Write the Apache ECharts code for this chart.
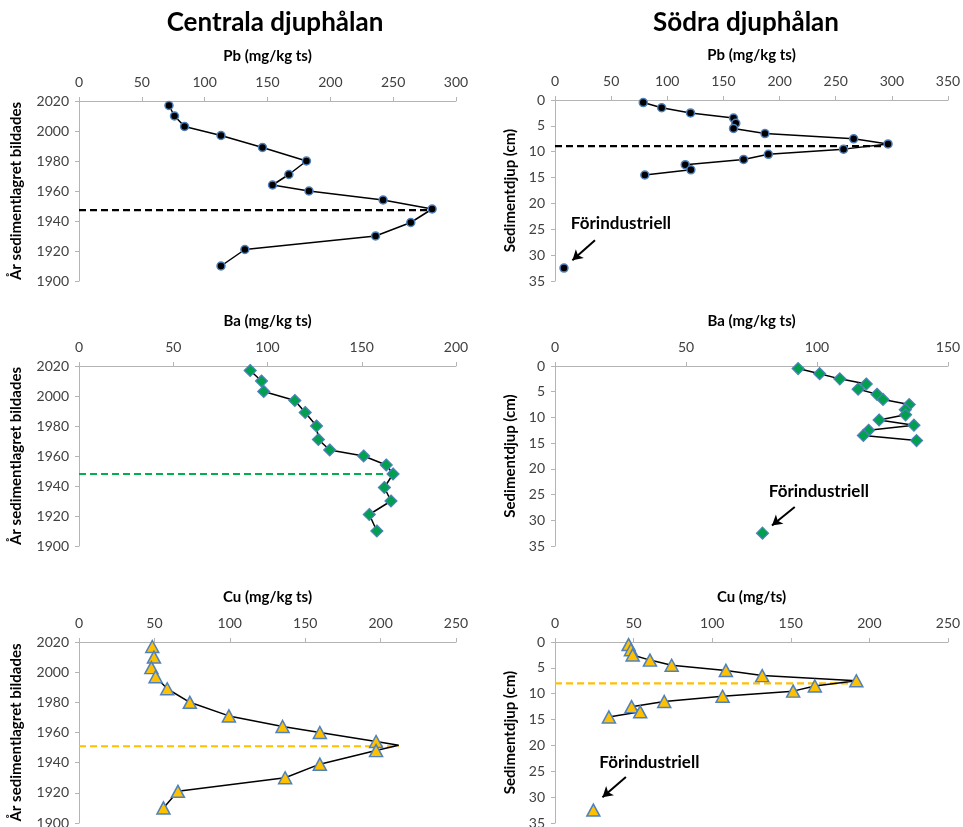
<!DOCTYPE html>
<html>
<head>
<meta charset="utf-8">
<script src="https://cdn.jsdelivr.net/npm/echarts@6/dist/echarts.min.js"></script>
<style>
html,body{margin:0;padding:0;background:#fff;}
#chart{width:963px;height:827px;}
</style>
</head>
<body>
<div id="chart"></div>
<script>
// ---- Data ----
const years = [2017, 2010, 2003, 1997, 1989, 1980, 1971, 1964, 1960, 1954, 1948, 1939, 1930, 1921, 1910];
const pbCentral = [71.6, 76, 84, 113, 146, 181, 167, 154, 183, 242, 281, 264, 236, 132, 113];
const baCentral = [90.8, 96.8, 98, 114.5, 120, 126, 127, 133, 151, 163, 166.6, 162, 165.5, 154, 158];
const cuCentralYears = [2017, 2010, 2003, 1997, 1989, 1980, 1971, 1964, 1960, 1954, 1951.5, 1948, 1939, 1930, 1921, 1910];
const cuCentral = [48.6, 49.7, 48, 50.8, 58.5, 73.5, 99.4, 135, 159.7, 197, 212, 197, 159.7, 136.7, 65.6, 56];
const cuCentralHidden = [1951.5]; // line vertex without a marker

const depths = [0.5, 1.5, 2.5, 3.5, 4.5, 5.5, 6.5, 7.5, 8.5, 9.5, 10.5, 11.5, 12.5, 13.5, 14.5];
const pbSouth = [78.6, 95, 120.7, 159, 161, 159, 187, 266, 296.6, 257, 190, 168, 116, 121, 80];
const baSouth = [92.8, 101, 108.7, 118.8, 115.7, 122.9, 125.2, 135.2, 133.7, 133.8, 123.7, 137, 119.7, 117.7, 138];
const cuSouth = [46.8, 48.3, 49.4, 60.4, 74.2, 108.7, 131.8, 191.7, 165.3, 151.5, 106.6, 69.5, 48.7, 54.2, 34.3];

const preIndDepth = 32.5;
const pbPreInd = 8;
const baPreInd = 79.2;
const cuPreInd = 24.4;

// reference (dashed) lines: [level, end value]
const pbCentralRef = [1947.3, 281];
const baCentralRef = [1948, 166];
const cuCentralRef = [1950.9, 212];
const pbSouthRef = [8.9, 296];
const cuSouthRef = [8.0, 190];

// axis ticks
const yearTicks = {min: 1900, max: 2020, interval: 20};
const depthTicks = {min: 0, max: 35, interval: 5};
const pbCentralTicks = {min: 0, max: 300, interval: 50};
const pbSouthTicks = {min: 0, max: 350, interval: 50};
const baCentralTicks = {min: 0, max: 200, interval: 50};
const baSouthTicks = {min: 0, max: 150, interval: 50};
const cuTicks = {min: 0, max: 250, interval: 50};

const titles = ['Centrala djuphålan', 'Södra djuphålan'];
const xNames = ['Pb (mg/kg ts)', 'Pb (mg/kg ts)', 'Ba (mg/kg ts)', 'Ba (mg/kg ts)', 'Cu (mg/kg ts)', 'Cu (mg/ts)'];
const yNameCentral = 'År sedimentlagret bildades';
const yNameSouth = 'Sedimentdjup (cm)';
const preIndLabel = 'Förindustriell';

// ---- Styles ----
const FONT = 'Lato, "Open Sans", sans-serif';
const AXIS_COLOR = '#b4b4b4';
const LABEL_COLOR = '#404040';
const BORDER = '#4f81bd';

const grids = [
  {left: 79, top: 101, width: 377, height: 180},
  {left: 555, top: 100, width: 393, height: 181},
  {left: 79, top: 366, width: 377, height: 180},
  {left: 555, top: 366, width: 393, height: 180},
  {left: 79, top: 642, width: 377, height: 181},
  {left: 555, top: 642, width: 393, height: 181}
].map(g => Object.assign({containLabel: false, outerBoundsMode: 'none'}, g));

const xTickSets = [pbCentralTicks, pbSouthTicks, baCentralTicks, baSouthTicks, cuTicks, cuTicks];

const xAxes = xTickSets.map((t, i) => ({
  gridIndex: i, type: 'value', position: 'top',
  min: t.min, max: t.max, interval: t.interval,
  name: xNames[i], nameLocation: 'middle', nameGap: 37,
  nameTextStyle: {fontFamily: FONT, fontWeight: 'bold', fontSize: 15, color: '#000'},
  axisLine: {show: true, onZero: false, lineStyle: {color: AXIS_COLOR, width: 1}},
  axisTick: {show: true, length: 4, lineStyle: {color: AXIS_COLOR}},
  axisLabel: {fontFamily: FONT, fontSize: 14, color: LABEL_COLOR, margin: 12},
  splitLine: {show: false}
}));

const yAxes = [0,1,2,3,4,5].map(i => {
  const south = i % 2 === 1;
  const t = south ? depthTicks : yearTicks;
  return {
    gridIndex: i, type: 'value', inverse: south,
    min: t.min, max: t.max, interval: t.interval,
    name: south ? yNameSouth : yNameCentral,
    nameLocation: 'middle', nameRotate: 90, nameGap: south ? 37 : 55,
    nameTextStyle: {fontFamily: FONT, fontWeight: 'bold', fontSize: 15, color: '#000'},
    axisLine: {show: true, onZero: false, lineStyle: {color: AXIS_COLOR, width: 1}},
    axisTick: {show: true, length: 4, lineStyle: {color: AXIS_COLOR}},
    axisLabel: {fontFamily: FONT, fontSize: 14, color: LABEL_COLOR, margin: 10,
                formatter: v => String(v)},
    splitLine: {show: false}
  };
});

const markerStyles = {
  pb: {symbol: 'circle', symbolSize: 8, itemStyle: {color: '#000', borderColor: BORDER, borderWidth: 1.5, opacity: 1}},
  ba: {symbol: 'diamond', symbolSize: 12, itemStyle: {color: '#00a04e', borderColor: BORDER, borderWidth: 1.2, opacity: 1}},
  cu: {symbol: 'triangle', symbolSize: [13, 12], itemStyle: {color: '#ffc000', borderColor: BORDER, borderWidth: 1.5, opacity: 1}}
};
const refColors = {pb: '#000', ba: '#00b050', cu: '#ffc000'};

function profileSeries(i, kind, xs, ys, hiddenYs) {
  const m = markerStyles[kind];
  return {
    type: 'line', xAxisIndex: i, yAxisIndex: i,
    data: xs.map((x, k) => {
      const item = {value: [x, ys[k]]};
      if (hiddenYs && hiddenYs.indexOf(ys[k]) >= 0) item.symbolSize = 0;
      return item;
    }),
    symbol: m.symbol, symbolSize: m.symbolSize, itemStyle: m.itemStyle,
    showAllSymbol: true,
    lineStyle: {color: '#000', width: 1.5},
    z: 3
  };
}

function refSeries(i, kind, ref) {
  return {
    type: 'line', xAxisIndex: i, yAxisIndex: i,
    data: [[0, ref[0]], [ref[1], ref[0]]],
    symbol: 'none',
    lineStyle: {color: refColors[kind], width: 2.2, type: [7, 4]},
    z: 2
  };
}

function preIndSeries(i, kind, x, text, textPos, arrowFrom, arrowTo) {
  const m = markerStyles[kind];
  return {
    type: 'scatter', xAxisIndex: i, yAxisIndex: i,
    data: [[x, preIndDepth]],
    symbol: m.symbol, symbolSize: m.symbolSize, itemStyle: m.itemStyle,
    z: 4,
    markLine: {
      silent: true, symbol: ['none', 'arrow'], symbolSize: [9, 10],
      label: {show: false},
      lineStyle: {color: '#000', width: 2, type: 'solid'},
      data: [[{coord: arrowFrom}, {coord: arrowTo}]]
    },
    markPoint: {
      silent: true, symbol: 'circle', symbolSize: 1,
      itemStyle: {color: 'rgba(0,0,0,0)'},
      label: {show: true, position: 'inside', formatter: text, color: '#000',
              fontFamily: FONT, fontWeight: 'bold', fontSize: 17},
      data: [{coord: textPos}]
    }
  };
}

const series = [
  profileSeries(0, 'pb', pbCentral, years),
  refSeries(0, 'pb', pbCentralRef),
  profileSeries(1, 'pb', pbSouth, depths),
  refSeries(1, 'pb', pbSouthRef),
  preIndSeries(1, 'pb', pbPreInd, preIndLabel, [58.7, 23.8], [35.6, 27.1], [15.5, 31.0]),
  profileSeries(2, 'ba', baCentral, years),
  refSeries(2, 'ba', baCentralRef),
  profileSeries(3, 'ba', baSouth, depths),
  preIndSeries(3, 'ba', baPreInd, preIndLabel, [100.7, 24.4], [91.5, 27.4], [82.8, 31.0]),
  profileSeries(4, 'cu', cuCentral, cuCentralYears, cuCentralHidden),
  refSeries(4, 'cu', cuCentralRef),
  profileSeries(5, 'cu', cuSouth, depths),
  refSeries(5, 'cu', cuSouthRef),
  preIndSeries(5, 'cu', cuPreInd, preIndLabel, [60, 23.3], [45.1, 26.1], [30.2, 30.0])
];

const option = {
  animation: false,
  backgroundColor: '#fff',
  title: [
    {text: titles[0], left: 270, top: 5, textAlign: 'center',
     textStyle: {fontFamily: FONT, fontWeight: 'bold', fontSize: 26, color: '#000'}},
    {text: titles[1], left: 741, top: 5, textAlign: 'center',
     textStyle: {fontFamily: FONT, fontWeight: 'bold', fontSize: 26, color: '#000'}}
  ],
  grid: grids,
  xAxis: xAxes,
  yAxis: yAxes,
  series: series
};

const chart = echarts.init(document.getElementById('chart'), null, {renderer: 'canvas'});
chart.setOption(option);
</script>
</body>
</html>
